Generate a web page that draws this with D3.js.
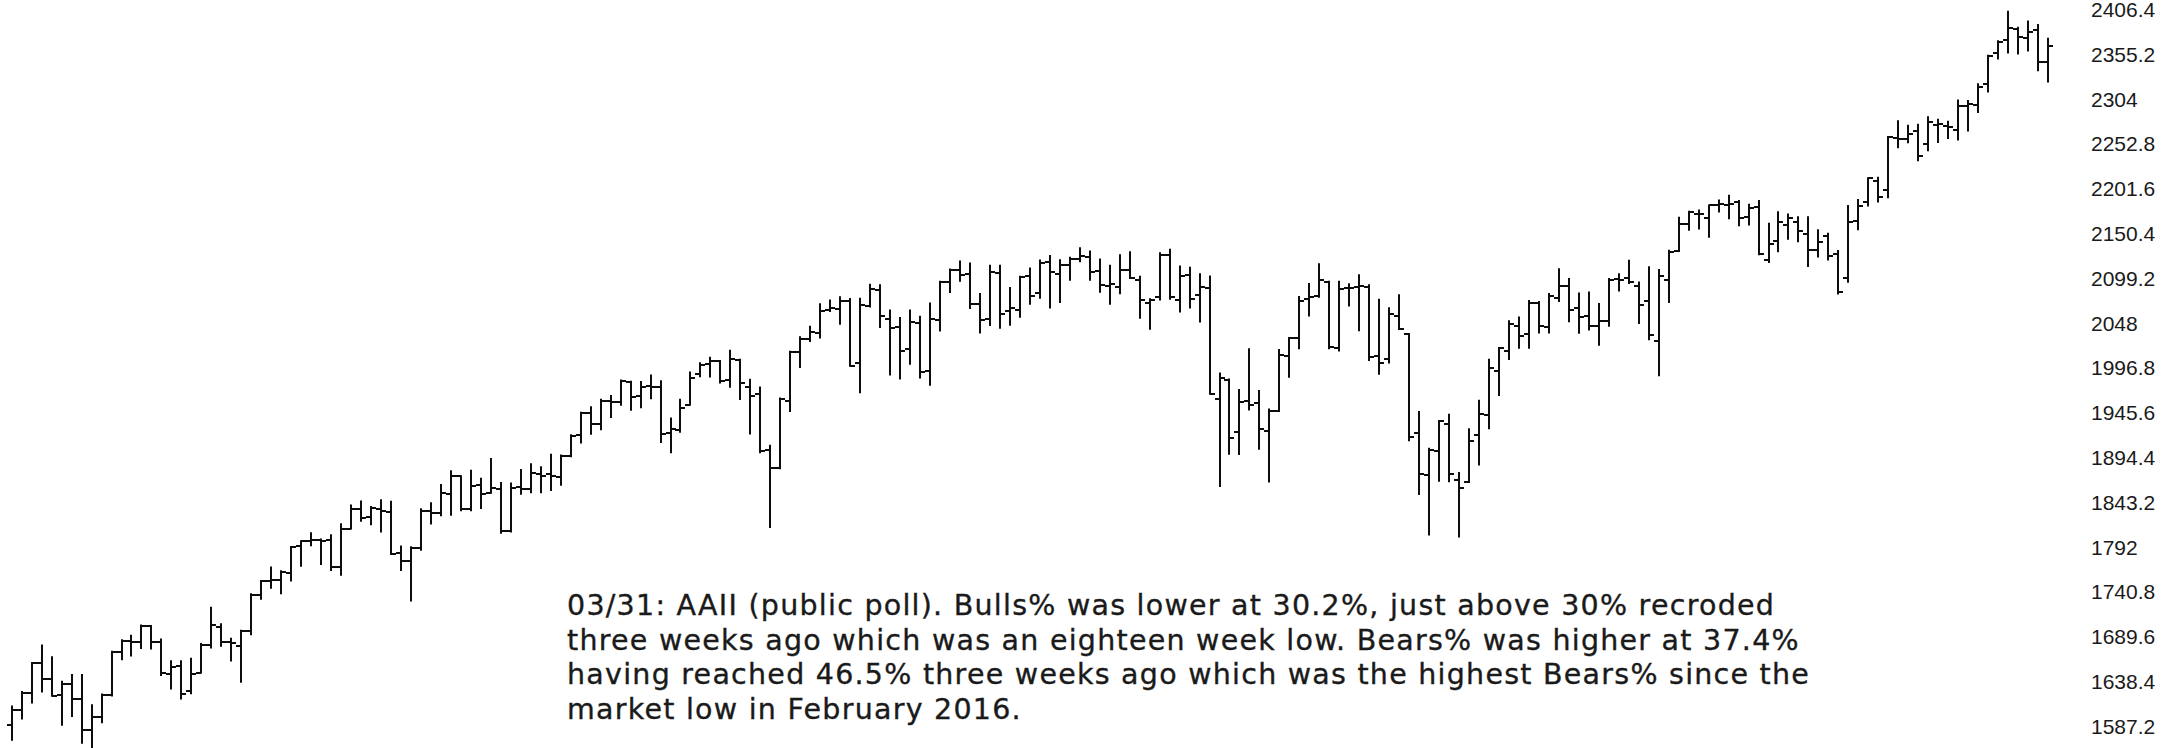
<!DOCTYPE html>
<html>
<head>
<meta charset="utf-8">
<script src="https://cdn.jsdelivr.net/npm/d3@7"></script>
<style>
  html, body { margin: 0; padding: 0; background: #ffffff; overflow: hidden; }
  svg { display: block; }
</style>
</head>
<body>
<svg id="chart" width="2168" height="748"></svg>
<script>
// Weekly bars (week ending), S&P 500
const weeks = [
"2013-05-03","2013-05-10","2013-05-17","2013-05-24","2013-05-31","2013-06-07","2013-06-14","2013-06-21","2013-06-28","2013-07-05",
"2013-07-12","2013-07-19","2013-07-26","2013-08-02","2013-08-09","2013-08-16","2013-08-23","2013-08-30","2013-09-06","2013-09-13",
"2013-09-20","2013-09-27","2013-10-04","2013-10-11","2013-10-18","2013-10-25","2013-11-01","2013-11-08","2013-11-15","2013-11-22",
"2013-11-29","2013-12-06","2013-12-13","2013-12-20","2013-12-27","2014-01-03","2014-01-10","2014-01-17","2014-01-24","2014-01-31",
"2014-02-07","2014-02-14","2014-02-21","2014-02-28","2014-03-07","2014-03-14","2014-03-21","2014-03-28","2014-04-04","2014-04-11",
"2014-04-17","2014-04-25","2014-05-02","2014-05-09","2014-05-16","2014-05-23","2014-05-30","2014-06-06","2014-06-13","2014-06-20",
"2014-06-27","2014-07-03","2014-07-11","2014-07-18","2014-07-25","2014-08-01","2014-08-08","2014-08-15","2014-08-22","2014-08-29",
"2014-09-05","2014-09-12","2014-09-19","2014-09-26","2014-10-03","2014-10-10","2014-10-17","2014-10-24","2014-10-31","2014-11-07",
"2014-11-14","2014-11-21","2014-11-28","2014-12-05","2014-12-12","2014-12-19","2014-12-26","2015-01-02","2015-01-09","2015-01-16",
"2015-01-23","2015-01-30","2015-02-06","2015-02-13","2015-02-20","2015-02-27","2015-03-06","2015-03-13","2015-03-20","2015-03-27",
"2015-04-02","2015-04-10","2015-04-17","2015-04-24","2015-05-01","2015-05-08","2015-05-15","2015-05-22","2015-05-29","2015-06-05",
"2015-06-12","2015-06-19","2015-06-26","2015-07-02","2015-07-10","2015-07-17","2015-07-24","2015-07-31","2015-08-07","2015-08-14",
"2015-08-21","2015-08-28","2015-09-04","2015-09-11","2015-09-18","2015-09-25","2015-10-02","2015-10-09","2015-10-16","2015-10-23",
"2015-10-30","2015-11-06","2015-11-13","2015-11-20","2015-11-27","2015-12-04","2015-12-11","2015-12-18","2015-12-24","2015-12-31",
"2016-01-08","2016-01-15","2016-01-22","2016-01-29","2016-02-05","2016-02-12","2016-02-19","2016-02-26","2016-03-04","2016-03-11",
"2016-03-18","2016-03-24","2016-04-01","2016-04-08","2016-04-15","2016-04-22","2016-04-29","2016-05-06","2016-05-13","2016-05-20",
"2016-05-27","2016-06-03","2016-06-10","2016-06-17","2016-06-24","2016-07-01","2016-07-08","2016-07-15","2016-07-22","2016-07-29",
"2016-08-05","2016-08-12","2016-08-19","2016-08-26","2016-09-02","2016-09-09","2016-09-16","2016-09-23","2016-09-30","2016-10-07",
"2016-10-14","2016-10-21","2016-10-28","2016-11-04","2016-11-11","2016-11-18","2016-11-25","2016-12-02","2016-12-09","2016-12-16",
"2016-12-23","2016-12-30","2017-01-06","2017-01-13","2017-01-20","2017-01-27","2017-02-03","2017-02-10","2017-02-17","2017-02-24",
"2017-03-03","2017-03-10","2017-03-17","2017-03-24","2017-03-31"
];

const opens = [
1597.6,1614.4,1633.7,1667.5,1649.6,1631.7,1643.4,1626.7,1592.4,1606.4,
1632.1,1680.0,1692.1,1691.7,1709.2,1691.4,1655.3,1664.3,1635.9,1656.9,
1688.0,1707.9,1691.6,1687.2,1703.2,1744.7,1759.4,1761.6,1769.3,1798.8,
1804.8,1806.6,1806.2,1775.4,1818.3,1841.5,1832.3,1841.1,1837.9,1791.0,
1782.7,1796.6,1838.2,1836.8,1857.7,1877.9,1841.1,1867.7,1859.2,1863.9,
1816.8,1865.8,1863.1,1880.0,1880.0,1876.7,1900.5,1923.9,1949.4,1937.2,
1962.9,1961.0,1984.2,1967.7,1979.8,1978.3,1926.4,1929.8,1958.4,1992.6,
2004.1,2007.2,1986.8,2009.1,1978.8,1971.0,1907.0,1886.8,1962.2,2018.2,
2032.3,2039.7,2065.1,2065.8,2074.8,2005.0,2069.3,2087.6,2054.4,2046.1,
2020.8,2050.4,1996.7,2053.5,2096.5,2109.8,2105.2,2072.3,2055.4,2107.0,
2064.1,2064.9,2102.9,2084.1,2119.3,2105.5,2115.6,2122.3,2125.3,2108.6,
2092.3,2091.3,2110.6,2098.6,2073.0,2080.0,2126.8,2075.8,2104.5,2082.0,
2089.7,1965.2,1986.7,1927.3,1963.1,1960.8,1929.2,1951.4,2013.0,2033.5,
2077.3,2080.8,2096.6,2022.1,2089.4,2090.9,2091.4,2013.4,2010.3,2057.8,
2038.2,1926.1,1878.9,1906.3,1936.9,1873.3,1871.4,1924.4,1947.0,1996.1,
2019.3,2047.6,2037.9,2073.2,2045.5,2078.8,2092.2,2067.2,2058.0,2047.2,
2052.7,2100.0,2100.8,2091.8,2075.6,2030.0,2099.3,2131.7,2162.0,2173.7,
2169.1,2183.7,2183.7,2187.0,2170.2,2181.6,2120.9,2143.0,2160.5,2164.3,
2150.5,2132.6,2148.5,2128.7,2100.6,2165.6,2186.4,2210.2,2200.2,2258.8,
2257.5,2266.2,2251.6,2273.6,2272.7,2267.8,2294.3,2295.9,2319.2,2354.0,
2369.1,2381.9,2371.4,2380.0,2344.0
];

const highs = [
1618.5,1635.0,1667.5,1687.2,1674.2,1646.5,1654.2,1654.2,1620.1,1632.1,
1680.2,1693.1,1698.4,1709.7,1709.2,1694.2,1669.5,1669.5,1672.4,1689.0,
1729.9,1711.3,1695.0,1704.0,1745.0,1759.8,1775.2,1770.8,1798.2,1804.8,
1813.6,1806.6,1811.5,1823.8,1844.9,1849.4,1843.2,1850.8,1849.3,1798.8,
1798.0,1840.8,1847.5,1867.9,1883.6,1878.0,1884.0,1875.2,1897.3,1870.3,
1869.6,1884.9,1891.3,1888.0,1902.2,1901.3,1924.0,1949.4,1955.6,1963.9,
1968.2,1985.6,1984.2,1983.9,1991.4,1984.9,1942.9,1964.0,1994.8,2005.0,
2011.2,2007.7,2019.3,2009.1,1986.5,1977.8,1912.1,1965.3,2018.2,2034.3,
2046.2,2071.5,2075.8,2079.5,2077.5,2077.9,2093.6,2093.0,2064.4,2056.0,
2064.6,2057.6,2072.4,2097.0,2110.6,2119.6,2117.5,2083.0,2114.9,2114.9,
2089.8,2102.6,2111.9,2120.9,2125.9,2121.0,2123.9,2134.7,2131.0,2121.9,
2115.0,2126.7,2130.0,2102.4,2077.1,2129.0,2132.8,2114.2,2112.7,2105.4,
2102.9,1993.5,1986.7,1975.0,2020.9,1974.0,1953.1,2020.0,2033.5,2079.7,
2094.3,2116.5,2097.0,2097.0,2094.1,2104.3,2093.0,2076.7,2067.0,2081.6,
2038.2,1950.3,1908.9,1940.2,1947.2,1881.6,1930.7,1963.0,2009.1,2022.4,
2052.4,2056.6,2075.1,2074.0,2083.0,2111.1,2099.9,2083.8,2084.9,2071.9,
2100.0,2105.3,2120.6,2096.0,2113.3,2110.0,2131.7,2169.1,2175.6,2177.1,
2182.9,2188.5,2193.8,2187.9,2183.5,2187.9,2162.3,2175.3,2172.7,2169.6,
2169.6,2154.8,2151.0,2131.5,2182.3,2189.0,2213.4,2214.1,2259.8,2277.5,
2272.6,2273.8,2282.1,2279.3,2277.0,2301.0,2300.5,2319.2,2351.3,2367.8,
2401.0,2383.0,2390.0,2386.0,2370.4
];

const lows = [
1581.3,1605.0,1623.0,1635.5,1630.7,1598.2,1608.0,1577.7,1560.3,1601.0,
1631.0,1671.8,1676.0,1684.4,1684.0,1654.2,1639.0,1627.5,1633.4,1656.9,
1685.0,1687.1,1670.4,1646.5,1700.0,1740.0,1752.3,1746.2,1760.6,1777.2,
1800.1,1779.1,1772.3,1767.0,1819.0,1827.7,1823.7,1815.8,1790.3,1772.3,
1737.9,1795.0,1824.6,1834.0,1834.4,1839.6,1839.5,1842.1,1859.2,1814.4,
1815.8,1858.1,1859.8,1859.8,1862.4,1868.4,1900.5,1916.0,1925.8,1930.9,
1944.7,1958.3,1952.9,1955.6,1965.8,1916.4,1904.8,1928.1,1958.4,1990.5,
1990.1,1983.5,1978.6,1965.0,1926.0,1905.0,1820.7,1886.8,1951.4,2001.0,
2030.2,2034.1,2064.0,2049.6,2002.3,1972.6,2069.0,2046.0,1992.4,1988.1,
2004.5,1989.2,1980.9,2041.9,2085.4,2098.0,2067.3,2039.7,2048.1,2045.1,
2048.4,2057.6,2072.0,2079.0,2067.9,2074.0,2099.2,2120.0,2099.1,2085.7,
2072.1,2084.0,2101.1,2056.3,2044.0,2076.8,2077.8,2063.5,2067.9,2052.1,
1970.9,1867.0,1903.1,1903.0,1953.0,1908.8,1871.9,1951.4,1990.0,2022.0,
2059.0,2080.0,2022.0,2019.4,2070.3,2042.4,2008.8,1993.3,2005.9,2043.6,
1918.5,1857.8,1812.3,1872.7,1872.3,1810.1,1871.4,1891.0,1931.8,1969.3,
2010.0,2022.5,2022.5,2039.7,2039.7,2075.2,2052.3,2039.5,2043.0,2025.9,
2047.3,2087.0,2095.6,2050.4,2032.1,1991.7,2074.0,2131.5,2155.6,2157.0,
2147.6,2176.0,2168.5,2160.4,2161.4,2127.8,2119.1,2131.2,2145.2,2142.6,
2114.7,2125.3,2122.0,2083.8,2097.0,2156.1,2182.9,2187.4,2192.1,2248.4,
2254.0,2233.6,2245.1,2254.3,2258.8,2257.0,2267.2,2288.0,2311.1,2348.3,
2355.0,2354.0,2357.2,2335.0,2322.3
];

const closes = [
1614.4,1633.7,1667.5,1649.6,1630.7,1643.4,1626.7,1592.4,1606.3,1631.9,
1680.2,1692.1,1691.7,1709.7,1691.4,1655.8,1663.5,1633.0,1655.2,1688.0,
1709.9,1691.8,1690.5,1703.2,1744.5,1759.8,1761.6,1770.6,1798.2,1804.8,
1805.8,1805.1,1775.3,1818.3,1841.4,1831.4,1842.4,1838.7,1790.3,1782.6,
1797.0,1838.6,1836.3,1859.5,1878.0,1841.1,1866.5,1857.6,1865.1,1815.7,
1864.9,1863.4,1881.1,1878.5,1877.9,1900.5,1923.6,1949.4,1936.2,1962.9,
1961.0,1985.4,1967.6,1978.2,1978.3,1925.2,1931.6,1955.1,1988.4,2003.4,
2007.7,1985.5,2010.4,1982.9,1967.9,1906.1,1886.8,1964.6,2018.1,2031.9,
2039.8,2063.5,2067.6,2075.4,2002.3,2070.7,2088.8,2058.2,2044.8,2019.4,
2051.8,1995.0,2055.5,2097.0,2110.3,2104.5,2071.3,2053.4,2108.1,2061.0,
2067.0,2102.1,2081.2,2117.7,2108.3,2116.1,2122.7,2126.1,2107.4,2092.8,
2094.1,2110.0,2101.5,2076.8,2076.6,2126.6,2079.7,2103.8,2077.6,2091.5,
1970.9,1988.9,1921.2,1961.1,1958.0,1931.3,1951.4,2014.9,2033.1,2075.2,
2079.4,2099.2,2023.0,2089.2,2090.1,2091.7,2012.4,2005.6,2061.0,2043.9,
1922.0,1880.3,1906.9,1940.2,1880.1,1864.8,1917.8,1948.1,2000.0,2022.2,
2049.6,2035.9,2072.8,2047.6,2080.7,2091.6,2065.3,2057.1,2046.6,2052.3,
2099.1,2099.1,2096.1,2071.2,2037.4,2103.0,2129.9,2161.7,2175.0,2173.6,
2182.9,2184.1,2183.9,2169.0,2180.0,2127.8,2139.2,2164.7,2168.3,2153.7,
2133.0,2141.2,2126.4,2085.2,2164.5,2181.9,2213.4,2192.0,2259.5,2258.1,
2263.8,2238.8,2277.0,2274.6,2271.3,2294.7,2297.4,2316.1,2351.2,2367.3,
2383.1,2372.6,2378.3,2344.0,2362.7
];

const tickValues = [2406.4,2355.2,2304,2252.8,2201.6,2150.4,2099.2,2048,1996.8,1945.6,1894.4,1843.2,1792,1740.8,1689.6,1638.4,1587.2];
const tickLabels = ["2406.4","2355.2","2304","2252.8","2201.6","2150.4","2099.2","2048","1996.8","1945.6","1894.4","1843.2","1792","1740.8","1689.6","1638.4","1587.2"];

const noteLines = [
"03/31: AAII (public poll). Bulls% was lower at 30.2%, just above 30% recroded",
"three weeks ago which was an eighteen week low. Bears% was higher at 37.4%",
"having reached 46.5% three weeks ago which was the highest Bears% since the",
"market low in February 2016."
];

const bars = weeks.map((w, i) => ({ w, o: opens[i], h: highs[i], l: lows[i], c: closes[i] }));

const svg = d3.select("#chart");

const x = d3.scalePoint().domain(weeks).range([11.7, 2048]);
const y = d3.scaleLinear().domain([1587.2, 2406.4]).range([734.4, 6.9]);
// the price labels of the source are laid out on a slightly tighter grid
const yLabel = d3.scaleLinear().domain([1587.2, 2406.4]).range([726, 9.5]);

const px = d => Math.round(x(d.w));
const tick = 5;
const ink = "#0d0d0d";

const g = svg.append("g").attr("stroke", ink).attr("stroke-width", 2).attr("fill", "none");
const bar = g.selectAll("g.bar").data(bars).join("g").attr("class", "bar");
bar.append("line")
  .attr("x1", px).attr("x2", px)
  .attr("y1", d => y(d.h) - 1).attr("y2", d => y(d.l) + 1);
bar.append("line")
  .attr("x1", d => px(d) - tick).attr("x2", px)
  .attr("y1", d => Math.round(y(d.o))).attr("y2", d => Math.round(y(d.o)));
bar.append("line")
  .attr("x1", px).attr("x2", d => px(d) + tick)
  .attr("y1", d => Math.round(y(d.c))).attr("y2", d => Math.round(y(d.c)));

// right price axis
const axis = d3.axisRight(yLabel)
  .tickValues(tickValues)
  .tickSize(0)
  .tickPadding(0)
  .tickFormat((d, i) => tickLabels[i]);
const ax = svg.append("g").attr("transform", "translate(2091,0)").call(axis);
ax.select(".domain").remove();
ax.selectAll("text")
  .attr("font-family", "'Liberation Sans', Arial, sans-serif")
  .attr("font-size", 21)
  .attr("fill", "#1a1a1a")
  .attr("dy", "0.34em");

// annotation
const note = svg.append("text")
  .attr("font-family", "'DejaVu Sans', Verdana, sans-serif")
  .attr("font-size", 28.5)
  .attr("letter-spacing", 1.25)
  .attr("fill", "#1a1a1a")
  .attr("stroke", "#1a1a1a")
  .attr("stroke-width", 0.35);
note.selectAll("tspan").data(noteLines).join("tspan")
  .attr("x", 567)
  .attr("y", (d, i) => 615 + i * 34.6)
  .text(d => d);
</script>
</body>
</html>
